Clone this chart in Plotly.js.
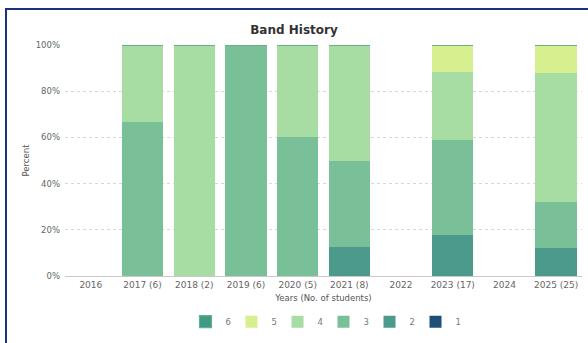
<!DOCTYPE html>
<html><head><meta charset="utf-8">
<script src="https://cdn.plot.ly/plotly-3.0.1.min.js"></script>
<style>
html,body{margin:0;padding:0;background:#fff;overflow:hidden}
#wrap{position:relative;width:588px;height:343px}
#chart{position:absolute;left:0;top:0;width:588px;height:343px}
#frame{position:absolute;left:5px;top:8px;width:590px;height:340px;border-top:2px solid #1b327e;border-left:2px solid #1b327e;pointer-events:none}
</style></head>
<body><div id="wrap"><div id="chart"></div><div id="frame"></div></div>
<script>
const categories = ["2016","2017 (6)","2018 (2)","2019 (6)","2020 (5)","2021 (8)","2022","2023 (17)","2024","2025 (25)"];
// counts of students per band for each year (null = no students that year)
const band1 = [null,0,0,0,0,0,null,0,null,0];
const band2 = [null,0,0,0,0,1,null,3,null,3];
const band3 = [null,4,0,6,3,3,null,7,null,5];
const band4 = [null,2,2,0,2,4,null,5,null,14];
const band5 = [null,0,0,0,0,0,null,2,null,3];
const band6 = [null,0,0,0,0,0,null,0,null,0];
const bandNames = ["1","2","3","4","5","6"];
const bandColors = ["#1f4e79","#4b9a8b","#79c099","#a7dca2","#d6ef8f","#3f9a86"];

const series = [band1,band2,band3,band4,band5,band6];
const traces = series.map((vals,i)=>({
  type:'bar', name:bandNames[i], x:categories, y:vals,
  marker:{color:bandColors[i], line:{width: i===5?1.2:0, color:'#6aae8c'}},
  hovertemplate:'%{y:.1f}%<extra>'+bandNames[i]+'</extra>'
}));

const layout = {
  width:588, height:343,
  paper_bgcolor:'#fff', plot_bgcolor:'#fff',
  font:{family:'"DejaVu Sans", "Liberation Sans", sans-serif', size:9, color:'#666'},
  margin:{l:65,r:6,t:45,b:67},
  barmode:'stack', barnorm:'percent', bargap:0.2,
  title:{text:'<b>Band History</b>', x:0.5, xref:'plot', y:0.912, yref:'container', yanchor:'middle',
         font:{size:12, color:'#333'}},
  xaxis:{type:'category', showline:true, linecolor:'#c8c8c8', linewidth:1, ticks:'', showgrid:false,
         tickfont:{size:9,color:'#666'},
         title:{text:'Years (No. of students)', font:{size:8.5,color:'#555'}, standoff:6}},
  yaxis:{range:[0,100], dtick:20, ticksuffix:'%', showgrid:true, gridcolor:'#d8d8d8', griddash:'dot',
         zeroline:false, tickfont:{size:8.5,color:'#666'}, ticklabelstandoff:4,
         title:{text:'Percent', font:{size:8.5,color:'#555'}, standoff:4}},
  legend:{orientation:'h', x:0.5, xanchor:'center', xref:'paper', y:-0.135, yanchor:'top',
          traceorder:'reversed', font:{size:8.5,color:'#777'}, itemwidth:30, entrywidth:1, entrywidthmode:'pixels'},
  showlegend:true
};
Plotly.newPlot('chart', traces, layout, {displayModeBar:false, staticPlot:true});
</script></body></html>
